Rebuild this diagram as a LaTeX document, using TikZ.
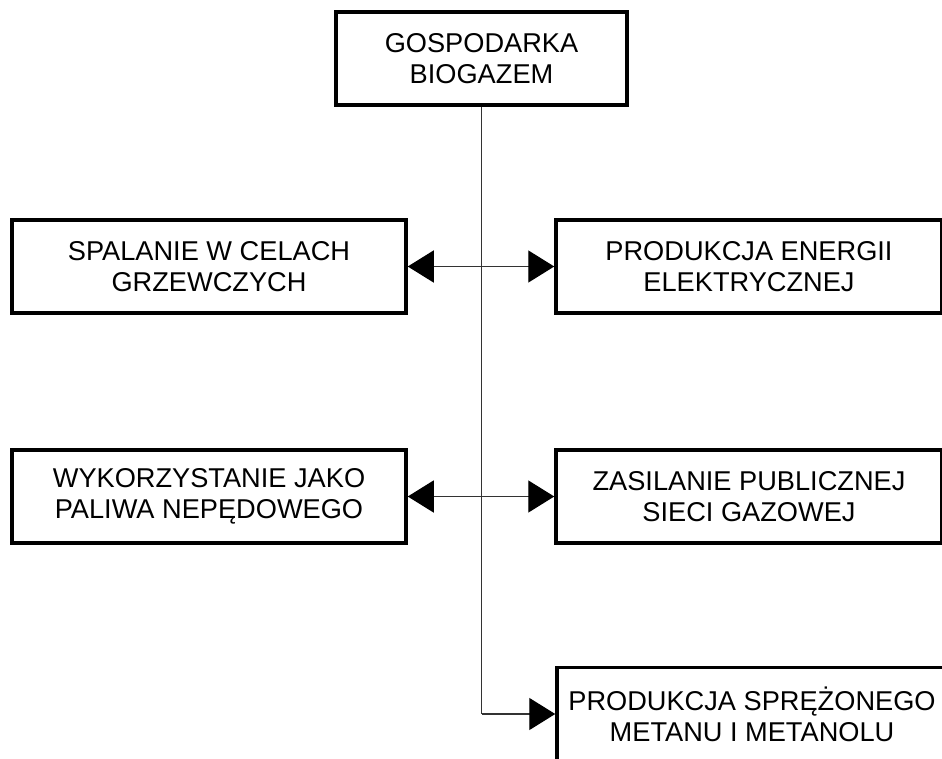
\documentclass[tikz,border=0pt]{standalone}
\usepackage{fontspec}
\setmainfont{Liberation Sans}
\usetikzlibrary{arrows.meta}

\tikzset{
	box/.style={draw, line width=3.5pt, inner sep=0pt, align=center,
		minimum height=93pt, font=\fontsize{27.2}{31}\selectfont},
	link/.style={draw=black!80, line width=1.4pt},
	head/.tip={Triangle[length=26pt,width=32pt,color=black]}
}

\begin{document}
\begin{tikzpicture}[x=1pt,y=-1pt]
		\useasboundingbox (0,0) rectangle (942,758);
		\clip (0,0) rectangle (942,758);

		\draw (481.5, 58.5) node[box, minimum width=291pt] (gosp)    {GOSPODARKA\\BIOGAZEM};

		\draw (209, 266.5) node[box, minimum width=394pt] (spal)    {SPALANIE W CELACH\\GRZEWCZYCH};
		\draw (749, 266.5) node[box, minimum width=386pt] (prod)    {PRODUKCJA ENERGII\\ELEKTRYCZNEJ};

		\draw (209, 496.5) node[box, minimum width=394pt] (wyk)    {WYKORZYSTANIE JAKO\\PALIWA NEPĘDOWEGO};
		\draw (749, 496.5) node[box, minimum width=386pt] (zas)    {ZASILANIE PUBLICZNEJ\\SIECI GAZOWEJ};

		\draw (752, 714) node[box, minimum width=390pt] (spr)    {PRODUKCJA SPRĘŻONEGO\\METANU I METANOLU};

		\coordinate (knee) at (gosp.south |- spr.west);
		\draw[link] (gosp.south) -- (knee);
		\draw[link, -head] (knee) -- (spr.west);

		\draw[link, head-head] (spal.east) -- (prod.west);
		\draw[link, head-head] (wyk.east) -- (zas.west);
	\end{tikzpicture}
\end{document}
